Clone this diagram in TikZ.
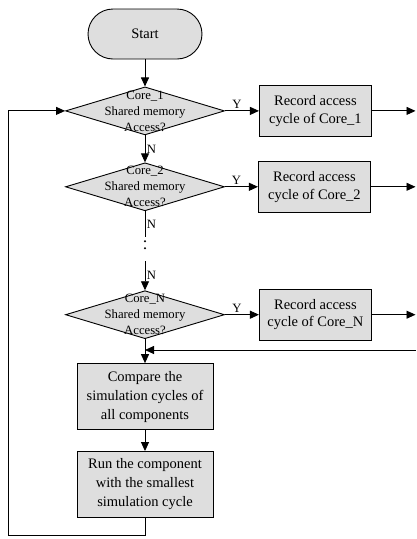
\documentclass[tikz,border=0pt]{standalone}
\usepackage{fontspec}
\setmainfont{Liberation Serif}
\usetikzlibrary{shapes.geometric,arrows.meta,positioning,calc}
\definecolor{boxgray}{RGB}{222,222,222}

\begin{document}
\begin{tikzpicture}[
    x=1pt, y=-1pt,
    line width=0.9pt,
    >={Triangle[length=9pt,width=8pt]},
    terminal/.style={draw, fill=boxgray, rounded corners=25pt, minimum width=114pt, minimum height=50pt, font=\fontsize{14.5}{18}\selectfont},
    decision/.style={draw, fill=boxgray, diamond, minimum width=159pt, minimum height=48pt, inner sep=0pt},
    dtext/.style={align=center, inner sep=0pt, font=\fontsize{12.7}{16}\selectfont},
    record/.style={draw, fill=boxgray, minimum width=112pt, minimum height=51pt, align=center, font=\fontsize{14.5}{17.5}\selectfont},
    process/.style={draw, fill=boxgray, minimum width=136pt, minimum height=66pt, align=center, font=\fontsize{14.5}{19}\selectfont},
    arrow/.style={->},
    yn/.style={font=\fontsize{12.7}{15}\selectfont, inner sep=1.5pt}
]
    \useasboundingbox (0,0) rectangle (416,539);

    % Main column
    \node[terminal] (start) at (145,34) {Start};
    \node[decision, below=27pt of start, label={[dtext]center:Core\_1\\Shared memory\\Access?}] (dia1) {};
    \node[decision, below=27pt of dia1, label={[dtext]center:Core\_2\\Shared memory\\Access?}] (dia2) {};
    \node[decision, below=79pt of dia2, label={[dtext]center:Core\_N\\Shared memory\\Access?}] (diaN) {};
    \node[process, below=24pt of diaN] (compare) {Compare the\\simulation cycles of\\all components};
    \node[process, below=21pt of compare] (run) {Run the component\\with the smallest\\simulation cycle};

    % Record boxes
    \node[record, right=34pt of dia1] (rec1) {Record access\\cycle of Core\_1};
    \node[record, right=33pt of dia2] (rec2) {Record access\\cycle of Core\_2};
    \node[record, right=34pt of diaN] (recN) {Record access\\cycle of Core\_N};

    % Helper points
    \coordinate (rim) at (415.5,0);
    \coordinate (leftx) at (8,0);
    \coordinate (floor) at (0,535.5);
    \coordinate[below=26pt of dia2.south] (gapA);
    \coordinate[below=4pt of gapA] (dotA);
    \coordinate[below=14pt of dotA] (dotB);
    \coordinate[below=6pt of dotB] (gapB);
    \coordinate (back) at (415.5,350);

    % Arrows
    \draw[arrow] (start) -- (dia1);
    \draw[arrow] (dia1) -- node[yn, right] {N} (dia2);
    \draw (dia2.south) -- node[yn, right] {N} (gapA);
    \draw[line width=2.2pt, line cap=round, dash pattern=on 0pt off 7pt] (dotA) -- (dotB);
    \draw[arrow] (gapB) -- node[yn, right] {N} (diaN.north);
    \draw[arrow] (diaN) -- (compare);
    \draw[arrow] (compare) -- (run);

    \draw[arrow] (dia1.east) -- node[yn, above, pos=0.35] {Y} (rec1);
    \draw[arrow] (dia2.east) -- node[yn, above, pos=0.35] {Y} (rec2);
    \draw[arrow] (diaN.east) -- node[yn, above, pos=0.35] {Y} (recN);
    \draw[arrow] (rec1.east) -- (rec1.east -| rim);
    \draw[arrow] (rec2.east) -- (rec2.east -| rim);
    \draw[arrow] (recN.east) -- (recN.east -| rim);
    \draw[arrow] (back) -- (back -| diaN.south);

    % Loop back
    \draw[arrow] (run.south) -- (run.south |- floor) -- (leftx |- floor) -- (leftx |- dia1.west) -- (dia1.west);

\end{tikzpicture}
\end{document}
